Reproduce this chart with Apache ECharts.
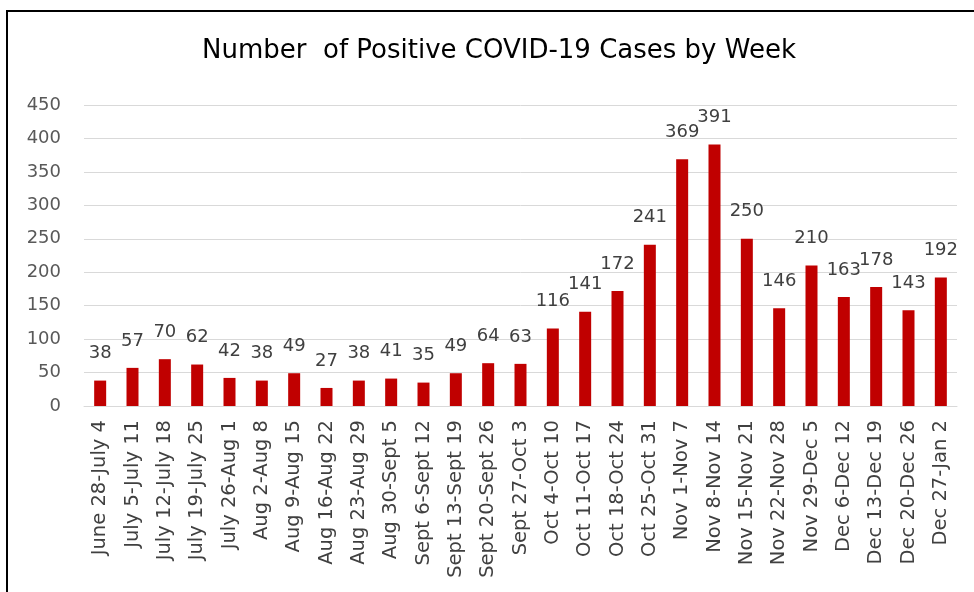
<!DOCTYPE html>
<html lang="en">
<head>
    <meta charset="UTF-8">
    <title>Positive COVID-19 Cases by Week</title>
    <script src="https://cdn.jsdelivr.net/npm/echarts@6/dist/echarts.min.js"></script>
    <style>
        html, body { margin: 0; padding: 0; background: #fff; }
        #main { position: absolute; left: 0; top: 0; width: 974px; height: 592px; }
        #frame { position: absolute; left: 6px; top: 10px; width: 980px; height: 600px;
                 border-left: 2px solid #000; border-top: 2px solid #000; pointer-events: none; }
    </style>
</head>
<body>
<div id="main"></div>
<div id="frame"></div>
<script>
    // weekly ranges
    let weeks = ["June 28-July 4", "July 5-July 11", "July 12-July 18", "July 19-July 25",
        "July 26-Aug 1", "Aug 2-Aug 8", "Aug 9-Aug 15", "Aug 16-Aug 22", "Aug 23-Aug 29",
        "Aug 30-Sept 5", "Sept 6-Sept 12", "Sept 13-Sept 19", "Sept 20-Sept 26", "Sept 27-Oct 3",
        "Oct 4-Oct 10", "Oct 11-Oct 17", "Oct 18-Oct 24", "Oct 25-Oct 31", "Nov 1-Nov 7",
        "Nov 8-Nov 14", "Nov 15-Nov 21", "Nov 22-Nov 28", "Nov 29-Dec 5", "Dec 6-Dec 12",
        "Dec 13-Dec 19", "Dec 20-Dec 26", "Dec 27-Jan 2"];
    let cases = [38, 57, 70, 62, 42, 38, 49, 27, 38, 41, 35, 49, 64, 63, 116, 141, 172, 241,
        369, 391, 250, 146, 210, 163, 178, 143, 192];
    let yTicks = [0, 50, 100, 150, 200, 250, 300, 350, 400, 450];

    let myChart = echarts.init(document.getElementById('main'));
    let option = {
        backgroundColor: '#fff',
        animation: false,
        title: {
            text: 'Number  of Positive COVID-19 Cases by Week',
            left: 197,
            top: 33,
            textStyle: {
                color: '#000',
                fontFamily: 'DejaVu Sans',
                fontWeight: 'normal',
                fontSize: 26
            }
        },
        grid: {
            left: 84,
            right: 17,
            top: 105,
            bottom: 186
        },
        xAxis: {
            type: 'category',
            data: weeks,
            axisLine: { lineStyle: { color: '#d9d9d9', width: 1 } },
            axisTick: { show: false },
            axisLabel: {
                rotate: 90,
                interval: 0,
                margin: 14,
                color: '#404040',
                fontFamily: 'DejaVu Sans',
                fontSize: 19.5
            }
        },
        yAxis: {
            type: 'value',
            min: yTicks[0],
            max: yTicks[yTicks.length - 1],
            interval: 50,
            axisLine: { show: false },
            axisTick: { show: false },
            splitLine: { lineStyle: { color: '#d9d9d9', width: 1 } },
            axisLabel: {
                margin: 23,
                color: '#595959',
                fontFamily: 'DejaVu Sans',
                fontSize: 18
            }
        },
        series: [
            {
                name: 'Cases',
                type: 'bar',
                data: cases,
                barWidth: 12,
                itemStyle: { color: '#c00000' },
                label: {
                    show: true,
                    position: 'top',
                    distance: 18,
                    color: '#404040',
                    fontFamily: 'DejaVu Sans',
                    fontSize: 18
                }
            }
        ]
    };
    myChart.setOption(option);
</script>
</body>
</html>
